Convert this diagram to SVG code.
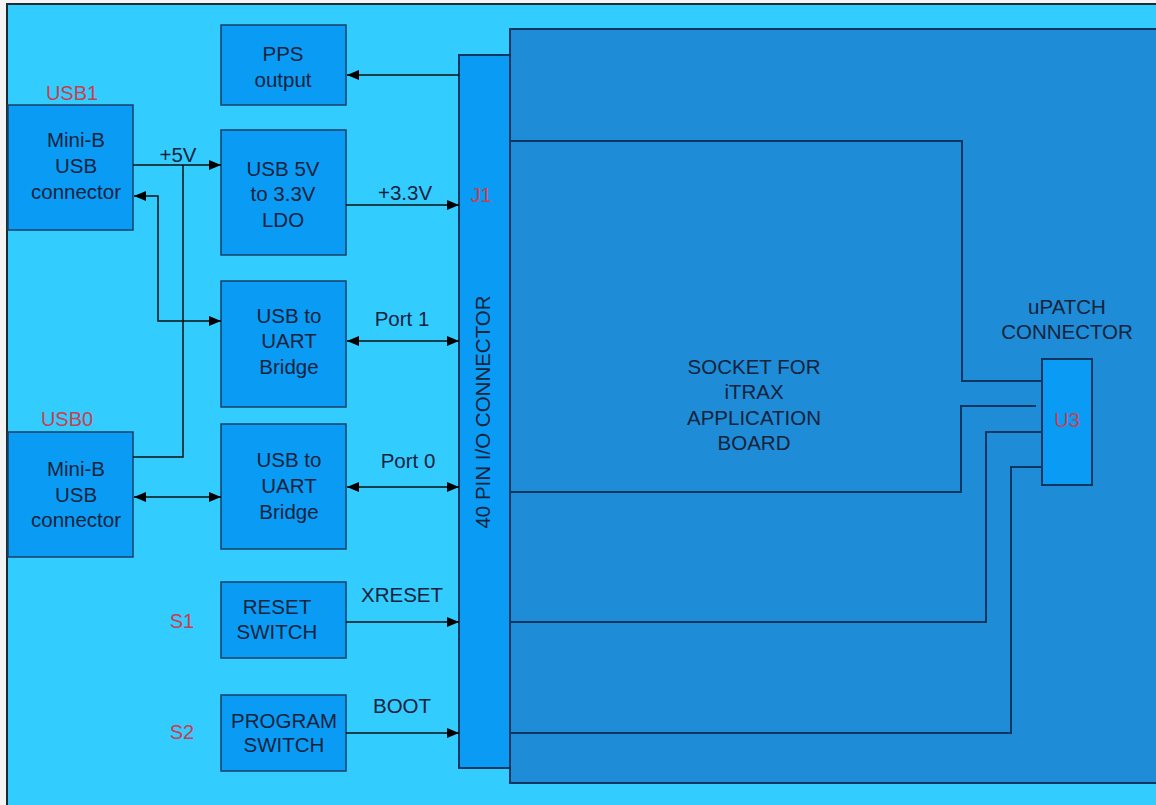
<svg xmlns="http://www.w3.org/2000/svg" width="1156" height="805" viewBox="0 0 1156 805">
  <defs>
    <marker id="arr" viewBox="0 0 12 10" refX="12" refY="5" markerWidth="12" markerHeight="10" markerUnits="userSpaceOnUse" orient="auto-start-reverse">
      <path d="M0,0 L12,5 L0,10 Z" fill="#000"/>
    </marker>
    <style>
      .box { fill: #0A9BF5; stroke: #1C3F66; stroke-width: 1.5; }
      .t { font-family: "Liberation Sans", Arial, sans-serif; font-size: 20.5px; fill: #14233C; text-anchor: middle; }
      .r { font-family: "Liberation Sans", Arial, sans-serif; font-size: 20px; fill: #C8404E; text-anchor: middle; }
      .w { fill: none; stroke: #111; stroke-width: 1.5; }
      .w2 { fill: none; stroke: #0D3660; stroke-width: 2; }
    </style>
  </defs>
  <rect x="0" y="0" width="1156" height="805" fill="#f4f4f4"/>
  <rect x="7" y="4" width="1160" height="810" fill="#33CCFF" stroke="#1a2a33" stroke-width="2"/>

  <g id="socket">
    <rect x="510" y="29" width="660" height="754" fill="#1E8CD6" stroke="#0D3660" stroke-width="2"/>
    <text class="t" x="754" y="374">SOCKET FOR</text>
    <text class="t" x="754" y="399">iTRAX</text>
    <text class="t" x="754" y="425">APPLICATION</text>
    <text class="t" x="754" y="450">BOARD</text>
  </g>

  <g id="socket-traces">
    <path class="w2" d="M510,141 L962,141 L962,381 L1042,381"/>
    <path class="w2" d="M510,492 L961,492 L961,406 L1036,406"/>
    <path class="w2" d="M510,622 L986,622 L986,432 L1042,432"/>
    <path class="w2" d="M510,733 L1011,733 L1011,467 L1042,467"/>
  </g>

  <g id="u3">
    <text class="t" x="1067" y="314">uPATCH</text>
    <text class="t" x="1067" y="339">CONNECTOR</text>
    <rect x="1042" y="359" width="50" height="126" fill="#0A9BF5" stroke="#0D3660" stroke-width="2"/>
    <text class="r" x="1067" y="427">U3</text>
  </g>

  <g id="j1">
    <rect x="459" y="55" width="51" height="713" fill="#0A9BF5" stroke="#0D3660" stroke-width="2"/>
    <text class="r" x="481" y="202">J1</text>
    <text class="t" x="0" y="0" transform="translate(490,412) rotate(-90)">40 PIN I/O CONNECTOR</text>
  </g>

  <g id="pps">
    <rect class="box" x="221" y="25" width="125" height="80"/>
    <text class="t" x="283" y="61">PPS</text>
    <text class="t" x="283" y="87">output</text>
  </g>

  <g id="usb1">
    <text class="r" x="72" y="100">USB1</text>
    <rect class="box" x="8" y="105" width="125" height="125"/>
    <text class="t" x="76" y="147">Mini-B</text>
    <text class="t" x="76" y="173">USB</text>
    <text class="t" x="76" y="199">connector</text>
  </g>

  <g id="ldo">
    <rect class="box" x="221" y="130" width="125" height="125"/>
    <text class="t" x="283" y="176">USB 5V</text>
    <text class="t" x="283" y="201">to 3.3V</text>
    <text class="t" x="283" y="227">LDO</text>
  </g>

  <g id="bridge1">
    <rect class="box" x="221" y="281" width="125" height="126"/>
    <text class="t" x="289" y="323">USB to</text>
    <text class="t" x="289" y="348">UART</text>
    <text class="t" x="289" y="374">Bridge</text>
  </g>

  <g id="usb0">
    <text class="r" x="67" y="426">USB0</text>
    <rect class="box" x="8" y="432" width="125" height="125"/>
    <text class="t" x="76" y="476">Mini-B</text>
    <text class="t" x="76" y="502">USB</text>
    <text class="t" x="76" y="527">connector</text>
  </g>

  <g id="bridge0">
    <rect class="box" x="221" y="424" width="125" height="125"/>
    <text class="t" x="289" y="467">USB to</text>
    <text class="t" x="289" y="493">UART</text>
    <text class="t" x="289" y="519">Bridge</text>
  </g>

  <g id="s1">
    <text class="r" x="182" y="628">S1</text>
    <rect class="box" x="221" y="582" width="125" height="76"/>
    <text class="t" x="277" y="614">RESET</text>
    <text class="t" x="277" y="639">SWITCH</text>
  </g>

  <g id="s2">
    <text class="r" x="182" y="739">S2</text>
    <rect class="box" x="221" y="695" width="125" height="76"/>
    <text class="t" x="284" y="728">PROGRAM</text>
    <text class="t" x="284" y="752">SWITCH</text>
  </g>

  <g id="connectors">
    <path class="w" d="M459,75 L347,75" marker-end="url(#arr)"/>
    <path class="w" d="M133,165 L221,165" marker-end="url(#arr)"/>
    <path class="w" d="M133,457 L183,457 L183,165"/>
    <path class="w" d="M134,196 L158,196 L158,321 L221,321" marker-start="url(#arr)" marker-end="url(#arr)"/>
    <path class="w" d="M346,205 L459,205" marker-end="url(#arr)"/>
    <path class="w" d="M347,341 L459,341" marker-start="url(#arr)" marker-end="url(#arr)"/>
    <path class="w" d="M134,497 L221,497" marker-start="url(#arr)" marker-end="url(#arr)"/>
    <path class="w" d="M347,487 L459,487" marker-start="url(#arr)" marker-end="url(#arr)"/>
    <path class="w" d="M346,622 L459,622" marker-end="url(#arr)"/>
    <path class="w" d="M346,733 L459,733" marker-end="url(#arr)"/>
    <text class="t" x="178" y="162">+5V</text>
    <text class="t" x="405" y="200">+3.3V</text>
    <text class="t" x="402" y="326">Port 1</text>
    <text class="t" x="408" y="468">Port 0</text>
    <text class="t" x="402" y="602">XRESET</text>
    <text class="t" x="402" y="713">BOOT</text>
  </g>
</svg>
